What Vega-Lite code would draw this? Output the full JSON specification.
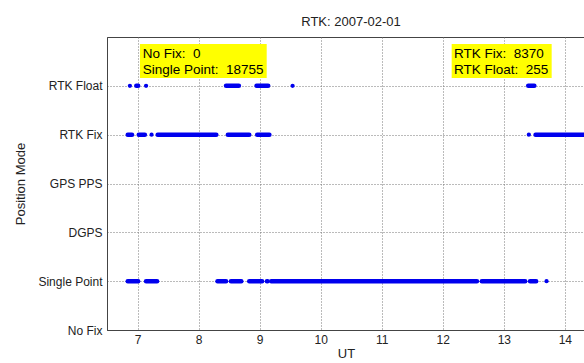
{
  "$schema": "https://vega.github.io/schema/vega-lite/v6.json",
  "autosize": {"type": "none"},
  "padding": {"left": 107, "top": 37, "right": 0, "bottom": 33},
  "width": 478,
  "height": 293,
  "background": "white",
  "title": {"text": "RTK: 2007-02-01", "dx": 5, "offset": 8},
  "datasets": {
    "runs": [
      {"mode": "Single Point", "level": 1, "start": 6.84, "end": 7.01},
      {"mode": "Single Point", "level": 1, "start": 7.14, "end": 7.32},
      {"mode": "Single Point", "level": 1, "start": 8.31, "end": 8.45},
      {"mode": "Single Point", "level": 1, "start": 8.53, "end": 8.70},
      {"mode": "Single Point", "level": 1, "start": 8.83, "end": 9.04},
      {"mode": "Single Point", "level": 1, "start": 9.12, "end": 9.13},
      {"mode": "Single Point", "level": 1, "start": 9.19, "end": 12.56},
      {"mode": "Single Point", "level": 1, "start": 12.64, "end": 13.35},
      {"mode": "Single Point", "level": 1, "start": 13.43, "end": 13.53},
      {"mode": "RTK Fix", "level": 4, "start": 6.84, "end": 6.91},
      {"mode": "RTK Fix", "level": 4, "start": 7.02, "end": 7.12},
      {"mode": "RTK Fix", "level": 4, "start": 7.33, "end": 8.29},
      {"mode": "RTK Fix", "level": 4, "start": 8.48, "end": 8.83},
      {"mode": "RTK Fix", "level": 4, "start": 8.96, "end": 9.16},
      {"mode": "RTK Fix", "level": 4, "start": 13.52, "end": 14.5},
      {"mode": "RTK Float", "level": 5, "start": 6.98, "end": 7.01},
      {"mode": "RTK Float", "level": 5, "start": 8.45, "end": 8.66},
      {"mode": "RTK Float", "level": 5, "start": 8.95, "end": 9.14},
      {"mode": "RTK Float", "level": 5, "start": 13.40, "end": 13.50}
    ],
    "dots": [
      {"mode": "Single Point", "level": 1, "ut": 13.70},
      {"mode": "RTK Fix", "level": 4, "ut": 7.23},
      {"mode": "RTK Fix", "level": 4, "ut": 13.41},
      {"mode": "RTK Float", "level": 5, "ut": 6.875},
      {"mode": "RTK Float", "level": 5, "ut": 7.14},
      {"mode": "RTK Float", "level": 5, "ut": 9.54}
    ],
    "boxes": [
      {"x0": 7.04, "x1": 9.116, "y0": 5.16, "y1": 5.857},
      {"x0": 12.146, "x1": 13.784, "y0": 5.16, "y1": 5.857}
    ],
    "notes": [
      {"x": 7.085, "y": 5.652, "text": "No Fix:\u00a0 0"},
      {"x": 7.085, "y": 5.324, "text": "Single Point:\u00a0 18755"},
      {"x": 12.184, "y": 5.652, "text": "RTK Fix:\u00a0 8370"},
      {"x": 12.184, "y": 5.324, "text": "RTK Float:\u00a0 255"}
    ]
  },
  "layer": [
    {
      "data": {"name": "boxes"},
      "mark": {"type": "rect", "color": "#ffff00", "opacity": 1},
      "encoding": {
        "x": {"field": "x0", "type": "quantitative", "scale": {"domain": [6.5, 14.33], "nice": false, "zero": false},
          "axis": {"values": [7, 8, 9, 10, 11, 12, 13, 14], "format": "d", "title": "UT"}},
        "x2": {"field": "x1"},
        "y": {"field": "y0", "type": "quantitative", "scale": {"domain": [0, 6], "nice": false, "zero": false},
          "axis": {"values": [0, 1, 2, 3, 4, 5], "title": "Position Mode",
            "labelExpr": "['No Fix','Single Point','DGPS','GPS PPS','RTK Fix','RTK Float'][datum.value]"}},
        "y2": {"field": "y1"}
      }
    },
    {
      "data": {"name": "notes"},
      "mark": {"type": "text", "align": "left", "baseline": "middle", "font": "Liberation Sans", "fontSize": 13.5, "color": "#000"},
      "encoding": {
        "x": {"field": "x", "type": "quantitative"},
        "y": {"field": "y", "type": "quantitative"},
        "text": {"field": "text"}
      }
    },
    {
      "data": {"name": "runs"},
      "mark": {"type": "rule", "color": "#0000ee", "strokeWidth": 4.5, "strokeCap": "round"},
      "encoding": {
        "x": {"field": "start", "type": "quantitative"},
        "x2": {"field": "end"},
        "y": {"field": "level", "type": "quantitative"}
      }
    },
    {
      "data": {"name": "dots"},
      "mark": {"type": "circle", "color": "#0000ee", "size": 18, "opacity": 1},
      "encoding": {
        "x": {"field": "ut", "type": "quantitative"},
        "y": {"field": "level", "type": "quantitative"}
      }
    }
  ],
  "config": {
    "font": "Liberation Sans",
    "view": {"stroke": "#444", "strokeWidth": 1},
    "title": {"fontSize": 13, "fontWeight": "normal", "color": "#222", "font": "Liberation Sans"},
    "axis": {
      "grid": true,
      "gridDash": [1, 2],
      "gridColor": "#777",
      "gridOpacity": 1,
      "domainColor": "#444",
      "ticks": false,
      "labelFontSize": 12,
      "labelColor": "#222",
      "labelFont": "Liberation Sans",
      "titleFont": "Liberation Sans",
      "titleFontSize": 13,
      "titleFontWeight": "normal",
      "titleColor": "#222"
    },
    "axisX": {"labelPadding": 4, "titlePadding": 2},
    "axisY": {"labelPadding": 5, "titlePadding": 10}
  }
}
